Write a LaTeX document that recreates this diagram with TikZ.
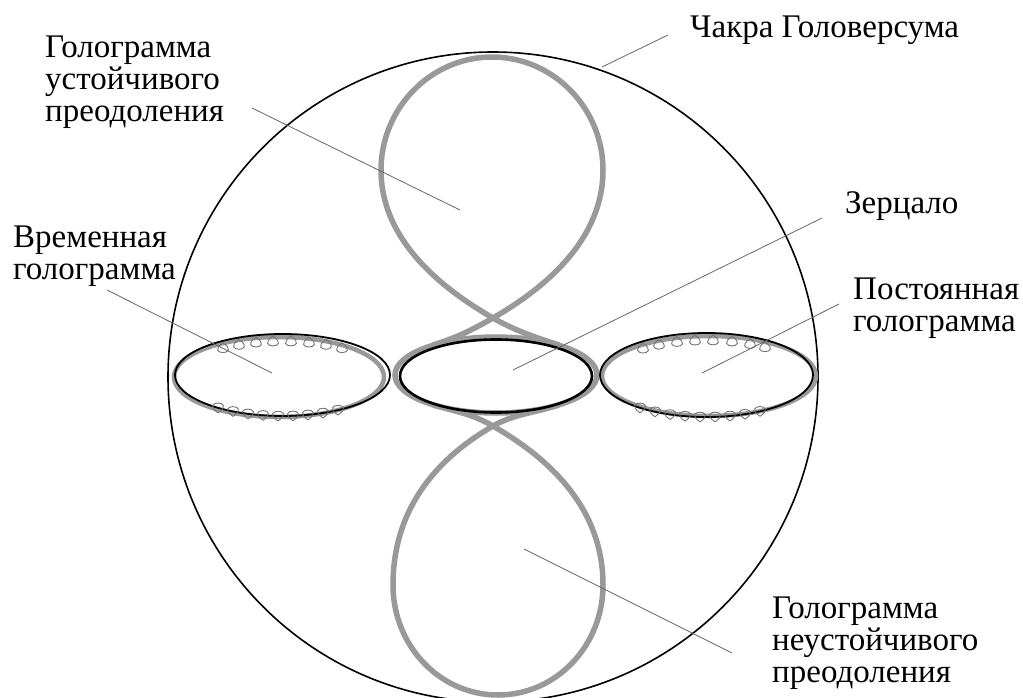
\documentclass[tikz,border=0pt]{standalone}
\usepackage{fontspec}
\setmainfont{Liberation Serif}
\usepackage{xcolor}
\usetikzlibrary{positioning,calc}
\definecolor{hologray}{gray}{0.6}

\begin{document}
\begin{tikzpicture}[
    x=1pt, y=-1pt,
    chakra/.style={draw=black, line width=1.6pt},
    holo/.style={draw=hologray, line width=5.5pt},
    rim/.style={draw=black, line width=1.8pt},
    leader/.style={draw=black!60, line width=0.8pt},
    lbl/.style={inner sep=0pt, align=left, anchor=north west, font=\fontsize{33}{32}\selectfont},
    twist/.pic={\draw[draw=black!55, line width=0.9pt] (0,0) .. controls (19,13) and (-19,13) .. (0,0);}
]
    \clip (0,0) rectangle (1023,698);
    \fill[white] (0,0) rectangle (1023,698);

    \draw[chakra] (493,377) circle[radius=325pt];

    % loops of the hologram
    \draw[holo] (496,375) ellipse[x radius=101pt, y radius=38pt];
    \draw[holo] (433,345) .. controls (458,337) and (472,330) .. (493,318)
        .. controls (545,288) and (603,240) .. (603,170)
        .. controls (603,108) and (553,57) .. (492,57)
        .. controls (431,57) and (381,108) .. (381,170)
        .. controls (381,240) and (441,288) .. (493,318)
        .. controls (514,330) and (534,337) .. (559,345);
    \draw[holo] (559,405) .. controls (534,413) and (514,414) .. (493,426)
        .. controls (441,456) and (393,505) .. (393,585)
        .. controls (393,646) and (440,695) .. (498,695)
        .. controls (556,695) and (603,646) .. (603,585)
        .. controls (603,505) and (545,456) .. (493,426)
        .. controls (472,414) and (458,412) .. (433,405);
    \draw[holo, line width=4.5pt] (279,377) ellipse[x radius=105pt, y radius=40pt];
    \draw[holo, line width=4.5pt] (709,376) ellipse[x radius=107pt, y radius=40pt];

    \draw[rim, line width=2.6pt] (496,376) ellipse[x radius=96pt, y radius=36.5pt];
    \draw[rim] (282.5,375) ellipse[x radius=107.5pt, y radius=41pt];
    \draw[rim] (706.5,375) ellipse[x radius=106.5pt, y radius=42pt];

    \foreach \x in {223,239,256,273,291,309,326,342} {
        \pgfmathsetmacro{\ye}{375-41*sqrt(1-((\x-282.5)/107.5)^2)}
        \pic at (\x,\ye+2) {twist};
    }
    \foreach \x in {218,233,248,263,278,293,308,323,338} {
        \pgfmathsetmacro{\ye}{375+41*sqrt(1-((\x-282.5)/107.5)^2)}
        \pic[rotate=180] at (\x,\ye+5) {twist};
    }
    \foreach \x in {643,659,677,695,713,732,750,765} {
        \pgfmathsetmacro{\ye}{375-42*sqrt(1-((\x-706.5)/106.5)^2)}
        \pic at (\x,\ye+2) {twist};
    }
    \foreach \x in {640,655,670,685,700,715,730,745,760} {
        \pgfmathsetmacro{\ye}{375+42*sqrt(1-((\x-706.5)/106.5)^2)}
        \pic[rotate=180] at (\x,\ye+5) {twist};
    }

    \node[lbl] (stable) at (45,36) {Голограмма\\устойчивого\\преодоления};
    \node[lbl] (chakraLbl) at (690,16) {Чакра Головерсума};
    \node[lbl] (mirror) at (845,191) {Зерцало};
    \node[lbl] (lasting) at (853,278) {Постоянная\\голограмма};
    \node[lbl] (passing) at (13,226) {Временная\\голограмма};
    \node[lbl] (unstable) at (772,597) {Голограмма\\неустойчивого\\преодоления};

    \coordinate (stableFoot) at (252,108);
    \coordinate (stableTip) at (460,210);
    \coordinate (chakraFoot) at (668,35);
    \coordinate (chakraTip) at (602,67);
    \coordinate (mirrorFoot) at (822,218);
    \coordinate (mirrorTip) at (513,370);
    \coordinate (lastingFoot) at (839,304);
    \coordinate (lastingTip) at (702,373);
    \coordinate (passingFoot) at (107,290);
    \coordinate (passingTip) at (272,373);
    \coordinate (unstableFoot) at (732,653);
    \coordinate (unstableTip) at (524,549);

    \draw[leader] (stableFoot) -- (stableTip);
    \draw[leader] (chakraFoot) -- (chakraTip);
    \draw[leader] (mirrorFoot) -- (mirrorTip);
    \draw[leader] (lastingFoot) -- (lastingTip);
    \draw[leader] (passingFoot) -- (passingTip);
    \draw[leader] (unstableFoot) -- (unstableTip);
\end{tikzpicture}
\end{document}
